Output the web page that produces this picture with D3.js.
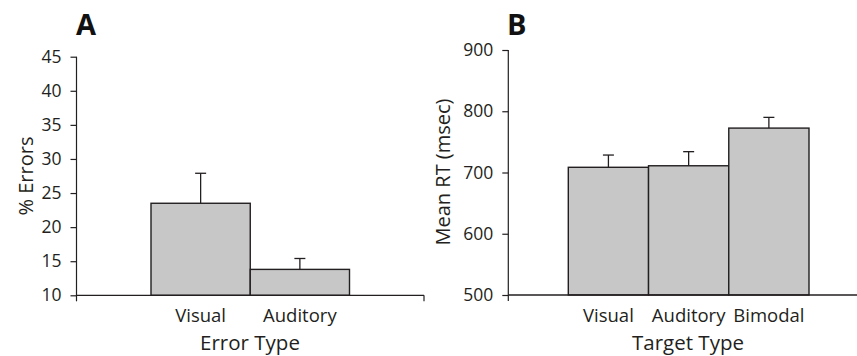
<!DOCTYPE html>
<html><head><meta charset="utf-8">
<script src="https://cdn.jsdelivr.net/npm/d3@7"></script>
<style>
html,body{margin:0;padding:0;background:#fff;}
svg{display:block;font-family:"Open Sans",sans-serif;}
</style></head>
<body>
<svg id="c" width="857" height="356"></svg>
<script>
// Panel A data
const catsA = ["Visual", "Auditory"];
const valuesA = [23.5, 13.8];
const errTopA = [27.9, 15.4];
const ticksA = [10, 15, 20, 25, 30, 35, 40, 45];

// Panel B data
const catsB = ["Visual", "Auditory", "Bimodal"];
const valuesB = [708.5, 711, 772.5];
const errTopB = [728.5, 734, 790];
const ticksB = [500, 600, 700, 800, 900];

const ink = "#231f20";
const fill = "#c6c7c6";
const svg = d3.select("#c");

function panel(o) {
  const g = svg.append("g");
  const y = d3.scaleLinear().domain(o.yDomain).range([o.y0, o.y1]);
  const x = d3.scaleBand().domain(o.cats).range(o.barRange).paddingInner(0).paddingOuter(0);

  // bars
  g.selectAll("rect.bar").data(o.cats).enter().append("rect")
    .attr("x", d => x(d)).attr("width", x.bandwidth())
    .attr("y", (d, i) => y(o.values[i]))
    .attr("height", (d, i) => y(o.yDomain[0]) - y(o.values[i]))
    .attr("fill", fill).attr("stroke", ink).attr("stroke-width", 1.4);

  // error bars
  const cap = 11;
  o.cats.forEach((c, i) => {
    const cx = x(c) + x.bandwidth() / 2;
    g.append("line").attr("x1", cx).attr("x2", cx)
      .attr("y1", y(o.values[i])).attr("y2", y(o.errTop[i]))
      .attr("stroke", ink).attr("stroke-width", 1.3);
    g.append("line").attr("x1", cx - cap / 2).attr("x2", cx + cap / 2)
      .attr("y1", y(o.errTop[i])).attr("y2", y(o.errTop[i]))
      .attr("stroke", ink).attr("stroke-width", 1.3);
  });

  // y axis
  const ya = d3.axisLeft(y).tickValues(o.ticks).tickSize(6).tickSizeOuter(0).tickPadding(9);
  const yg = g.append("g").attr("transform", `translate(${o.axisX},0)`).call(ya);
  yg.select(".domain").remove();
  yg.selectAll(".tick line").attr("stroke", ink).attr("stroke-width", 1.2);
  yg.selectAll(".tick text").attr("fill", ink).attr("font-size", 17.5)
    .attr("font-family", '"Open Sans",sans-serif');
  g.append("line").attr("x1", o.axisX).attr("x2", o.axisX)
    .attr("y1", y(o.yDomain[1])).attr("y2", y(o.yDomain[0]) + 6)
    .attr("stroke", ink).attr("stroke-width", 1.2);

  // x axis line
  g.append("line").attr("x1", o.axisX).attr("x2", o.xEnd)
    .attr("y1", y(o.yDomain[0])).attr("y2", y(o.yDomain[0]))
    .attr("stroke", ink).attr("stroke-width", 1.3);
  if (o.rightTick) {
    g.append("line").attr("x1", o.xEnd).attr("x2", o.xEnd)
      .attr("y1", y(o.yDomain[0])).attr("y2", y(o.yDomain[0]) + 6)
      .attr("stroke", ink).attr("stroke-width", 1.2);
  }

  // category labels
  g.selectAll("text.cat").data(o.cats).enter().append("text")
    .attr("x", d => x(d) + x.bandwidth() / 2).attr("y", 322)
    .attr("text-anchor", "middle").attr("font-size", 18.5).attr("fill", ink)
    .text(d => d);

  // x title
  g.append("text").attr("x", o.xTitleX).attr("y", 350)
    .attr("text-anchor", "middle").attr("font-size", 20.5).attr("fill", ink)
    .text(o.xTitle);

  // y title
  g.append("text").attr("transform", `translate(${o.yTitleX},${o.yTitleY}) rotate(-90)`)
    .attr("text-anchor", "middle").attr("font-size", 20).attr("fill", ink)
    .text(o.yTitle);

  // panel letter
  g.append("text").attr("x", o.letterX).attr("y", 35)
    .attr("font-size", 29).attr("font-weight", 700).attr("fill", "#111")
    .text(o.letter);
}

panel({
  cats: catsA, values: valuesA, errTop: errTopA, ticks: ticksA,
  yDomain: [10, 45], y0: 295.3, y1: 56.7, barRange: [151, 349.5],
  axisX: 76.5, xEnd: 424, rightTick: true,
  xTitle: "Error Type", xTitleX: 250, yTitle: "% Errors", yTitleX: 33, yTitleY: 176,
  letter: "A", letterX: 76
});

panel({
  cats: catsB, values: valuesB, errTop: errTopB, ticks: ticksB,
  yDomain: [500, 900], y0: 295, y1: 50, barRange: [568.3, 809],
  axisX: 508.3, xEnd: 857, rightTick: false,
  xTitle: "Target Type", xTitleX: 688, yTitle: "Mean RT (msec)", yTitleX: 450, yTitleY: 172,
  letter: "B", letterX: 507
});
</script>
</body></html>
